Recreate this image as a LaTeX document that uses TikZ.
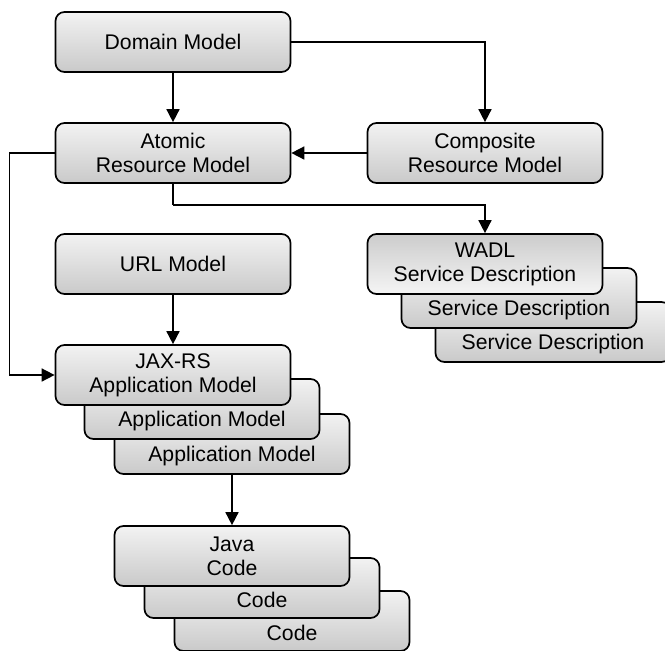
\documentclass[tikz,border=0pt]{standalone}
\usepackage{fontspec}
\setmainfont{Liberation Sans}
\usepackage{tikz}
\usetikzlibrary{arrows.meta,positioning}

\begin{document}
\begin{tikzpicture}[x=0.5pt, y=-0.5pt,
    model/.style={draw=black, line width=0.85pt, rounded corners=4.5pt,
      minimum width=117.5pt, minimum height=30pt, align=center,
      top color=gray!10, bottom color=gray!42,
      font=\fontsize{10.6}{12}\selectfont},
    wadlmodel/.style={model, top color=gray!40, bottom color=gray!8},
    arr/.style={line width=0.8pt, -{Triangle[width=6.5pt,length=6.5pt]}}]
   \useasboundingbox (0,0) rectangle (665,650);

   \node[model] (dom) at (173,42) {Domain Model};
   \node[model] (atom) at (173,153) {Atomic\\Resource Model};
   \node[model] (comp) at (485,153) {Composite\\Resource Model};
   \node[model] (url) at (173,264) {URL Model};

   \node[model] (wadl3) at (553,332) {\vphantom{J}\\Service Description};
   \node[model] (wadl2) at (519,298) {\vphantom{J}\\Service Description};
   \node[wadlmodel] (wadl) at (485,264) {WADL\\Service Description};

   \node[model] (jax3) at (232,444) {\vphantom{J}\\Application Model};
   \node[model] (jax2) at (202,409) {\vphantom{J}\\Application Model};
   \node[model] (jax) at (173,375) {JAX-RS\\Application Model};

   \node[model] (java3) at (292,621) {\vphantom{J}\\Code};
   \node[model] (java2) at (262,588) {\vphantom{J}\\Code};
   \node[model] (java) at (232,556) {Java\\Code};

   \coordinate (split) at (173,205);

  \path[arr]
    (dom) edge (atom)
    (comp) edge (atom)
    (url) edge (jax)
    (jax3) edge (java);
  \draw[line width=0.8pt] (atom.south) -- (split);
  \draw[arr] (split) -| (wadl.north);
  \draw[arr] (dom.east) -| (comp.north);
  \draw[arr] (atom.west) -- ++(-45,0) |- (jax.west);
  \end{tikzpicture}
\end{document}
